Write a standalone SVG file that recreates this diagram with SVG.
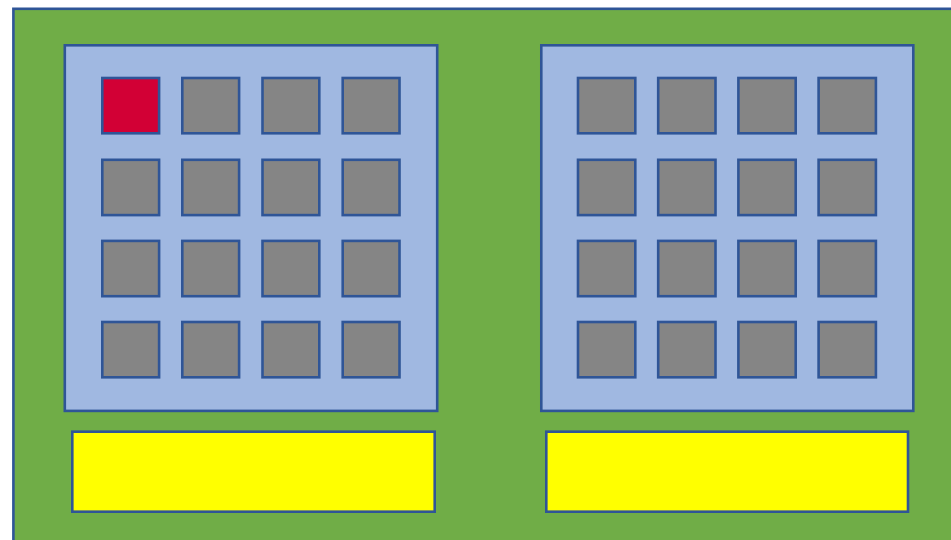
<svg xmlns="http://www.w3.org/2000/svg" width="951" height="540" viewBox="0 0 951 540">
<style>
.s{stroke:#2F5597;stroke-width:2.6}
.bg{fill:#70AD47}
.panel{fill:#A0B8E1}
.cell{fill:#858585}
.hot{fill:#D20035}
.bar{fill:#FFFF00}
</style>
<rect width="951" height="540" fill="#FFFFFF"/>
<g id="board"><rect class="s bg" x="13.4" y="8.8" width="960" height="560"/></g>
<g id="panelA">
<rect class="s panel" x="64.8" y="45.3" width="372.4" height="365.6"/>
<g id="cellsA">
<rect class="s hot" x="102.3" y="78" width="56.8" height="55.3"/>
<rect class="s cell" x="182.3" y="78" width="56.8" height="55.3"/>
<rect class="s cell" x="262.5" y="78" width="56.8" height="55.3"/>
<rect class="s cell" x="342.7" y="78" width="56.8" height="55.3"/>
<rect class="s cell" x="102.3" y="159.8" width="56.8" height="55.3"/>
<rect class="s cell" x="182.3" y="159.8" width="56.8" height="55.3"/>
<rect class="s cell" x="262.5" y="159.8" width="56.8" height="55.3"/>
<rect class="s cell" x="342.7" y="159.8" width="56.8" height="55.3"/>
<rect class="s cell" x="102.3" y="240.9" width="56.8" height="55.3"/>
<rect class="s cell" x="182.3" y="240.9" width="56.8" height="55.3"/>
<rect class="s cell" x="262.5" y="240.9" width="56.8" height="55.3"/>
<rect class="s cell" x="342.7" y="240.9" width="56.8" height="55.3"/>
<rect class="s cell" x="102.3" y="322" width="56.8" height="55.3"/>
<rect class="s cell" x="182.3" y="322" width="56.8" height="55.3"/>
<rect class="s cell" x="262.5" y="322" width="56.8" height="55.3"/>
<rect class="s cell" x="342.7" y="322" width="56.8" height="55.3"/>
</g>
</g>
<g id="panelB">
<rect class="s panel" x="541.3" y="45.3" width="372" height="365.6"/>
<g id="cellsB">
<rect class="s cell" x="578" y="78" width="57.3" height="55.3"/>
<rect class="s cell" x="658.2" y="78" width="57.3" height="55.3"/>
<rect class="s cell" x="738.4" y="78" width="57.3" height="55.3"/>
<rect class="s cell" x="818.6" y="78" width="57.3" height="55.3"/>
<rect class="s cell" x="578" y="159.8" width="57.3" height="55.3"/>
<rect class="s cell" x="658.2" y="159.8" width="57.3" height="55.3"/>
<rect class="s cell" x="738.4" y="159.8" width="57.3" height="55.3"/>
<rect class="s cell" x="818.6" y="159.8" width="57.3" height="55.3"/>
<rect class="s cell" x="578" y="240.9" width="57.3" height="55.3"/>
<rect class="s cell" x="658.2" y="240.9" width="57.3" height="55.3"/>
<rect class="s cell" x="738.4" y="240.9" width="57.3" height="55.3"/>
<rect class="s cell" x="818.6" y="240.9" width="57.3" height="55.3"/>
<rect class="s cell" x="578" y="322" width="57.3" height="55.3"/>
<rect class="s cell" x="658.2" y="322" width="57.3" height="55.3"/>
<rect class="s cell" x="738.4" y="322" width="57.3" height="55.3"/>
<rect class="s cell" x="818.6" y="322" width="57.3" height="55.3"/>
</g>
</g>
<g id="barA"><rect class="s bar" x="72.3" y="431.7" width="362.4" height="80"/></g>
<g id="barB"><rect class="s bar" x="546.3" y="431.7" width="361.7" height="80"/></g>
<g id="connectors"></g>
</svg>
